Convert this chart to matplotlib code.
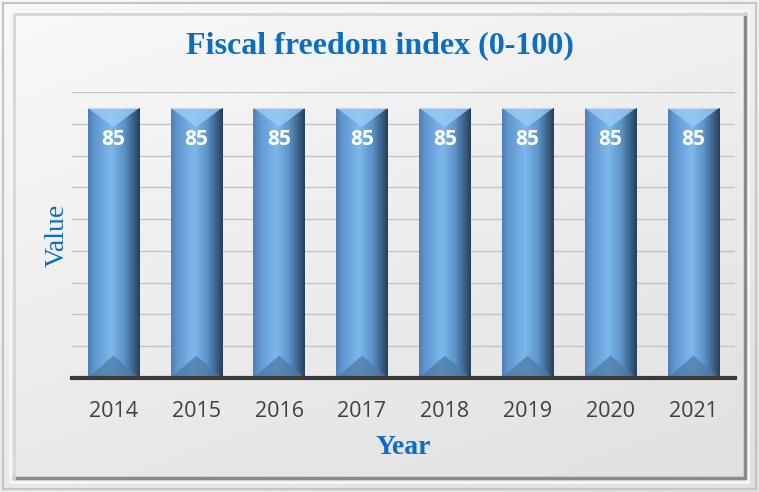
import numpy as np
import matplotlib
matplotlib.use('Agg')
import matplotlib.pyplot as plt
from matplotlib.patches import Rectangle, Polygon
from matplotlib.colors import LinearSegmentedColormap

# Data
years = ['2014', '2015', '2016', '2017', '2018', '2019', '2020', '2021']
values = [85, 85, 85, 85, 85, 85, 85, 85]

title_blue = '#0A6EC4'

fig = plt.figure(figsize=(7.59, 4.92), dpi=100)

# background panel with soft gradient
bg = fig.add_axes([0, 0, 1, 1])
bg.set_axis_off()
grad = np.linspace(0, 1, 256)
gx, gy = np.meshgrid(grad, grad)
shade = 0.975 - 0.10 * (0.35 * gx + 0.65 * gy)
bg.imshow(shade, cmap='gray', vmin=0, vmax=1, extent=(0, 1, 0, 1), aspect='auto', origin='upper')
bg.add_patch(Rectangle((0.004, 0.006), 0.992, 0.988, fill=False, edgecolor='#c4c4c4', lw=1.5))
bg.add_patch(Rectangle((0.013, 0.02), 0.972, 0.96, fill=False, edgecolor='#f6f6f6', lw=2))
# shadowed right/bottom inner edges
bg.plot([0.018, 0.982, 0.982], [0.028, 0.028, 0.972], color='#8a8a8a', lw=2.5)
bg.plot([0.018, 0.018, 0.982], [0.028, 0.972, 0.972], color='#d6d6d6', lw=2)
bg.set_xlim(0, 1)
bg.set_ylim(0, 1)

ax = fig.add_axes([0.095, 0.232, 0.873, 0.581])
ax.set_facecolor('none')

x = np.arange(len(years))
width = 0.62
ax.set_xlim(-0.5, len(years) - 0.5)
ax.set_ylim(0, 90)

# gridlines
ax.set_yticks(np.arange(0, 91, 10))
ax.yaxis.grid(True, color='#c4c4c4', lw=1)
ax.set_axisbelow(True)
ax.tick_params(axis='y', length=0, labelleft=False)

# horizontal colour profile of the cylinder-like bars
bar_cmap = LinearSegmentedColormap.from_list('bar', [
    (0.0, '#4f7fb4'), (0.12, '#5f97d0'), (0.45, '#7db8ec'),
    (0.7, '#5c93c8'), (0.88, '#3b6188'), (1.0, '#26405c')])
profile = np.linspace(0, 1, 200).reshape(1, -1)

bars = ax.bar(x, values, width=width, color='none', edgecolor='none', zorder=3)
for rect, v in zip(bars, values):
    x0 = rect.get_x()
    x1 = x0 + rect.get_width()
    xc = x0 + rect.get_width() / 2
    ax.imshow(profile, cmap=bar_cmap, extent=(x0, x1, 0, v), aspect='auto', zorder=3)
    d = 6
    # top bevel
    ax.add_patch(Polygon([(x0, v), (x1, v), (xc, v - d)], closed=True,
                         facecolor='#9ccbf4', alpha=0.8, edgecolor='none', zorder=4))
    ax.add_patch(Polygon([(x0, v), (x1, v), (x1, v - 0.5), (x0, v - 0.5)], closed=True,
                         facecolor='#d8ecfc', alpha=0.7, edgecolor='none', zorder=4))
    # bottom bevel
    ax.add_patch(Polygon([(x0, 0), (x1, 0), (xc, d + 1)], closed=True,
                         facecolor='#4d7aa6', alpha=0.75, edgecolor='none', zorder=4))
    ax.text(xc, v - 9.8, str(v), ha='center', va='center', color='white',
            fontsize=15, fontweight='bold', family='Open Sans', zorder=5)

ax.set_xticks(x)
ax.set_xticklabels(years, fontsize=15.5, color='#404040', family='Open Sans')
ax.tick_params(axis='x', length=0, pad=17)

for s in ['top', 'right', 'left']:
    ax.spines[s].set_visible(False)
ax.spines['bottom'].set_color('#3a3a3a')
ax.spines['bottom'].set_linewidth(3)
ax.spines['bottom'].set_zorder(6)

ax.set_xlabel('Year', fontsize=20, fontweight='bold', color=title_blue,
              family='Liberation Serif', labelpad=9)
ax.set_ylabel('Value', fontsize=20, color=title_blue, family='Liberation Serif', labelpad=2)

fig.text(0.5, 0.908, 'Fiscal freedom index (0-100)', ha='center', va='center',
         fontsize=23, fontweight='bold', color=title_blue, family='Liberation Serif')

plt.savefig('out.png', dpi=100)
